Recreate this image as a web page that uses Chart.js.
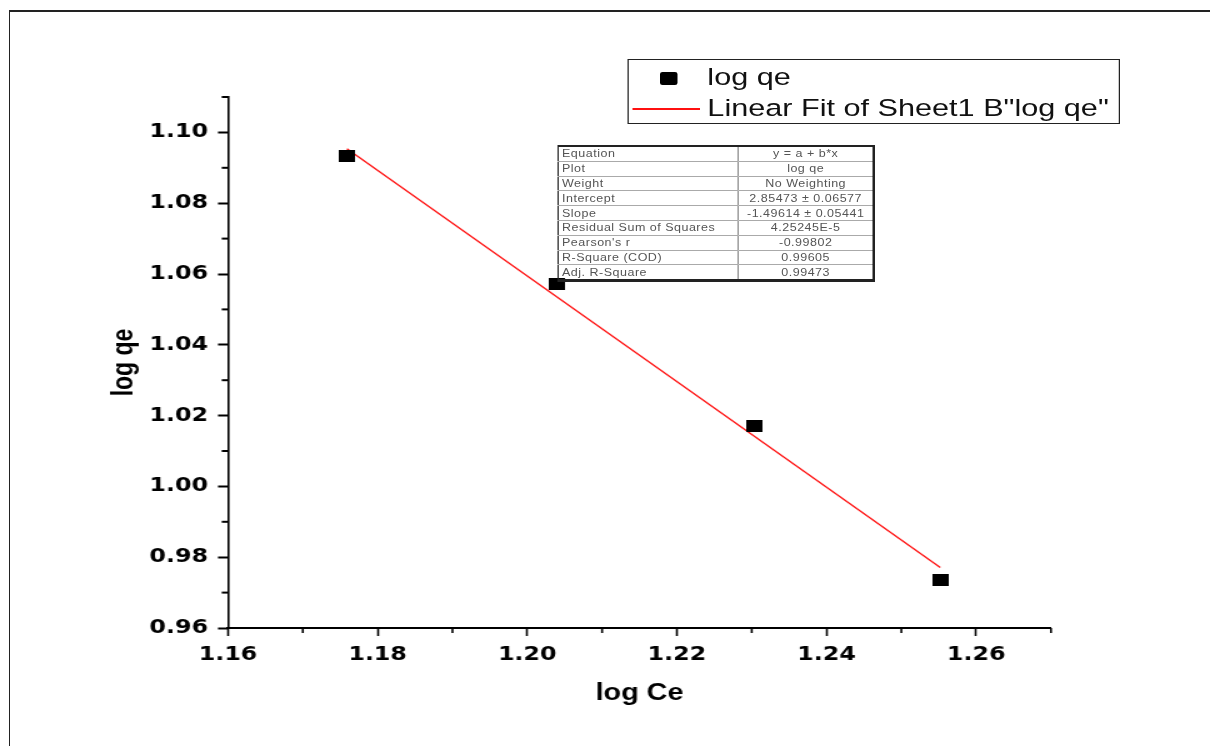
<!DOCTYPE html>
<html>
<head>
<meta charset="utf-8">
<script src="https://cdn.jsdelivr.net/npm/chart.js@4.4.0/dist/chart.umd.min.js"></script>
<style>
  html, body { margin: 0; padding: 0; background: #fff; overflow: hidden; }
  #wrap { position: absolute; left: 0; top: 0; width: 968px; height: 746px;
          transform: scaleX(1.25); transform-origin: 0 0; }
  #c { position: absolute; left: 0; top: 0; }
  #frame { position: absolute; left: 7px; top: 10px; right: -20px; bottom: -20px;
           border-top: 2px solid #222; border-left: 1.6px solid #222; }
  #legend { position: absolute; left: 501.6px; top: 59px; width: 394.4px; height: 65px;
            box-sizing: border-box; border: 1.5px solid #222; font-family: "Liberation Sans", Arial, sans-serif;
            font-size: 24.5px; color: #111; }
  #legend .txt { position: absolute; left: 63.3px; height: 30px; line-height: 30px; white-space: nowrap; }
  #legend .mk { position: absolute; width: 14px; height: 13px; background: #000; border-radius: 2px; }
  #legend .ln { position: absolute; height: 2px; }
  #stats { position: absolute; left: 445.6px; top: 145px; border-collapse: collapse; table-layout: fixed;
           font-family: "Liberation Sans", Arial, sans-serif; font-size: 10px; color: #555;
           border-top: 2px solid #222; border-left: 1px solid #222; border-right: 2.4px solid #222; border-bottom: 3px solid #222; }
  #stats td { height: 13.8px; padding: 0 3px; border-bottom: 1px solid #aaa; white-space: nowrap;
              overflow: hidden; line-height: 13px; letter-spacing: 0.4px; }
  #stats td.v { text-align: center; border-left: 1.6px solid #888; }
</style>
</head>
<body>
<div id="wrap">
  <canvas id="c" width="968" height="746"></canvas>
  <div id="frame"></div>
  <div id="legend"></div>
  <table id="stats"><colgroup><col style="width:144.6px"><col style="width:108.2px"></colgroup><tbody></tbody></table>
</div>
<script>
// ---- data ----
const logCe = [1.1759, 1.2040, 1.2303, 1.2552];
const logQe = [1.0934, 1.0573, 1.0171, 0.9736];
const fitLogCe = [1.1759, 1.2552];
const fitLogQe = [1.0954, 0.9771];
const xTickLabels = ['1.16', '1.18', '1.20', '1.22', '1.24', '1.26'];
const yTickLabels = ['0.96', '0.98', '1.00', '1.02', '1.04', '1.06', '1.08', '1.10'];
const seriesName = 'log qe';
const fitName = 'Linear Fit of Sheet1 B"log qe"';
const xTitle = 'log Ce';
const yTitle = 'log qe';
const statNames = ['Equation', 'Plot', 'Weight', 'Intercept', 'Slope', 'Residual Sum of Squares', "Pearson's r", 'R-Square (COD)', 'Adj. R-Square'];
const statValues = ['y = a + b*x', 'log qe', 'No Weighting', '2.85473 \u00b1 0.06577', '-1.49614 \u00b1 0.05441', '4.25245E-5', '-0.99802', '0.99605', '0.99473'];

// ---- stats table ----
const tb = document.querySelector('#stats tbody');
statNames.forEach((n, i) => {
  const tr = document.createElement('tr');
  const a = document.createElement('td'); a.textContent = n;
  const b = document.createElement('td'); b.className = 'v'; b.textContent = statValues[i];
  tr.appendChild(a); tr.appendChild(b); tb.appendChild(tr);
});

// ---- point marker ----
const mk = document.createElement('canvas');
mk.width = 13; mk.height = 12;
const mctx = mk.getContext('2d'); mctx.fillStyle = '#000'; mctx.fillRect(0, 0, 13, 12);

const minorTicks = {
  id: 'minorTicks',
  afterDraw(chart) {
    const ctx = chart.ctx;
    ctx.save();
    ctx.strokeStyle = '#000';
    const xs = chart.scales.x, ys = chart.scales.y;
    const xv = xs.ticks.map(t => t.value), yv = ys.ticks.map(t => t.value);
    const xm = xv.slice(0, -1).map((v, i) => (v + xv[i + 1]) / 2).concat([xs.max]);
    const ym = yv.slice(0, -1).map((v, i) => (v + yv[i + 1]) / 2).concat([ys.max]);
    ctx.lineWidth = 1.6;
    xm.forEach(v => { const p = xs.getPixelForValue(v); ctx.beginPath(); ctx.moveTo(p, xs.top); ctx.lineTo(p, xs.top + 5); ctx.stroke(); });
    ctx.lineWidth = 2;
    ym.forEach(v => { const p = ys.getPixelForValue(v); ctx.beginPath(); ctx.moveTo(ys.right - 5, p); ctx.lineTo(ys.right, p); ctx.stroke(); });
    ctx.restore();
  }
};

const tickFont = { family: 'DejaVu Sans', weight: 'bold', size: 19 };
const titleFont = { family: 'Liberation Sans', weight: 'bold', size: 23 };

const chart = new Chart(document.getElementById('c'), {
  type: 'scatter',
  data: {
    datasets: [
      { label: seriesName, data: logCe.map((x, i) => ({ x, y: logQe[i] })),
        pointStyle: mk, pointRadius: 7, pointHoverRadius: 7, showLine: false },
      { label: fitName, type: 'line', data: fitLogCe.map((x, i) => ({ x, y: fitLogQe[i] })),
        borderColor: '#ff1010', borderWidth: 1.3, pointRadius: 0, showLine: true, fill: false, tension: 0 }
    ]
  },
  options: {
    responsive: false, animation: false, events: [],
    layout: { padding: { left: 0, top: 97, right: 127.2, bottom: 0 } },
    plugins: { legend: { display: false }, tooltip: { enabled: false } },
    scales: {
      x: {
        type: 'linear', min: 1.16, max: 1.27,
        afterBuildTicks: s => { s.ticks = xTickLabels.map(l => ({ value: parseFloat(l) })); },
        afterFit: s => { s.height = 118; },
        ticks: { font: tickFont, color: '#000', padding: 8, maxRotation: 0,
                 callback: (v) => xTickLabels.find(l => Math.abs(parseFloat(l) - v) < 1e-9) },
        grid: { drawOnChartArea: false, drawTicks: true, tickLength: 8, tickWidth: 1.6, tickColor: '#000' },
        border: { display: true, color: '#000', width: 2 },
        title: { display: true, text: xTitle, font: titleFont, color: '#000', padding: { top: 0, bottom: 39 } }
      },
      y: {
        type: 'linear', min: 0.96, max: 1.11,
        afterBuildTicks: s => { s.ticks = yTickLabels.map(l => ({ value: parseFloat(l) })); },
        afterFit: s => { s.width = 182.4; },
        ticks: { font: tickFont, color: '#000', padding: 8,
                 callback: (v) => yTickLabels.find(l => Math.abs(parseFloat(l) - v) < 1e-9) },
        grid: { drawOnChartArea: false, drawTicks: true, tickLength: 8, tickWidth: 2, tickColor: '#000' },
        border: { display: true, color: '#000', width: 1.6 },
        title: { display: true, text: yTitle, font: titleFont, color: '#000', padding: { top: 86, bottom: 0 } }
      }
    }
  },
  plugins: [minorTicks]
});

// ---- legend built from the chart datasets ----
const lg = document.getElementById('legend');
chart.data.datasets.forEach((ds, i) => {
  const cy = i === 0 ? 18 : 49;
  if (i === 0) {
    const m = document.createElement('div'); m.className = 'mk';
    m.style.left = (32 - 7) + 'px'; m.style.top = (cy - 6.5) + 'px'; lg.appendChild(m);
  } else {
    const l = document.createElement('div'); l.className = 'ln';
    l.style.left = '3px'; l.style.width = '54px'; l.style.top = (cy - 1) + 'px';
    l.style.background = ds.borderColor; lg.appendChild(l);
  }
  const t = document.createElement('div'); t.className = 'txt';
  t.style.top = (cy - 15 - 1.5) + 'px'; t.textContent = ds.label; lg.appendChild(t);
});
</script>
</body>
</html>
